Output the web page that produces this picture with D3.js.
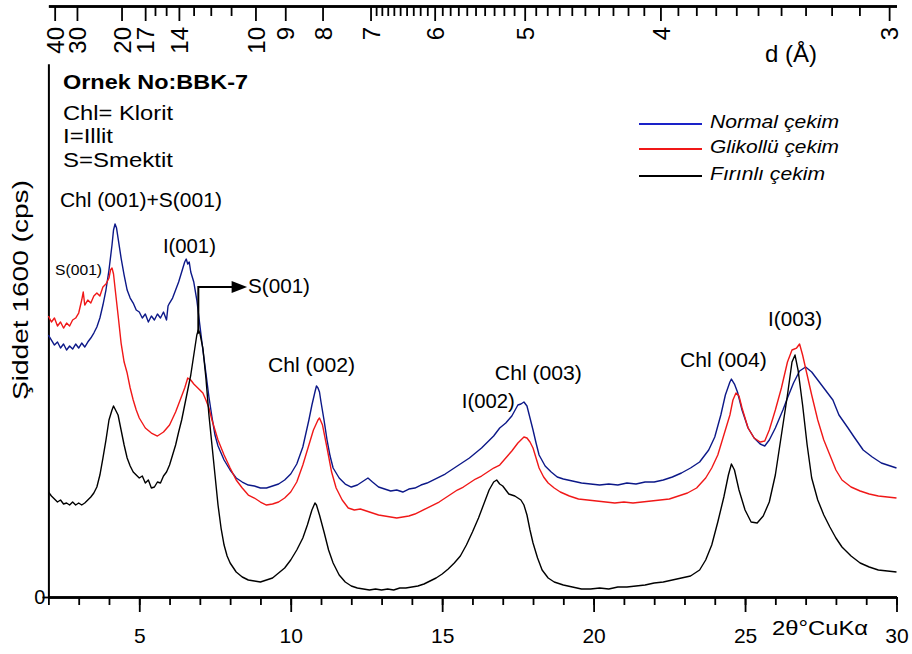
<!DOCTYPE html>
<html>
<head>
  <meta charset="UTF-8">
  <title>BBK-7</title>
  <style>
    body { margin: 0; background: #fff; }
    text { font-family: "Liberation Sans", Arial, sans-serif; fill: #000; }
  </style>
</head>
<body>
<script src="https://cdn.jsdelivr.net/npm/d3@7"></script>
<script>
// [2theta, cps]
var normalCekim = [
  [2.0,786],[2.1,771],[2.2,756],[2.3,765],[2.4,747],[2.5,759],[2.6,741],[2.7,753],[2.8,744],[2.9,759],
  [3.0,747],[3.1,762],[3.2,750],[3.3,765],[3.4,777],[3.5,792],[3.6,810],[3.7,837],[3.8,876],[3.9,921],
  [4.0,981],[4.1,1056],[4.15,1101],[4.2,1119],[4.25,1107],[4.3,1077],[4.4,1017],[4.5,966],[4.6,921],[4.7,897],
  [4.8,882],[4.9,861],[5.0,855],[5.1,837],[5.2,849],[5.3,825],[5.4,843],[5.5,831],[5.6,849],[5.7,837],
  [5.8,855],[5.9,831],[5.95,873],[6.0,882],[6.1,897],[6.2,921],[6.3,945],[6.4,975],[6.5,1005],[6.55,1014],
  [6.6,999],[6.65,1005],[6.7,975],[6.8,945],[6.9,891],[7.0,816],[7.1,741],[7.2,672],[7.3,600],[7.4,540],
  [7.5,486],[7.6,453],[7.8,411],[8.0,381],[8.2,357],[8.4,345],[8.6,336],[8.8,333],[9.0,327],[9.2,327],
  [9.4,333],[9.6,339],[9.8,351],[10.0,369],[10.2,399],[10.4,450],[10.6,531],[10.7,576],[10.8,615],[10.85,633],
  [10.9,627],[10.95,615],[11.0,585],[11.1,531],[11.2,471],[11.3,423],[11.4,387],[11.6,357],[11.8,339],[12.0,330],
  [12.2,336],[12.4,348],[12.55,357],[12.7,345],[12.9,330],[13.1,324],[13.3,318],[13.5,321],[13.7,315],[13.9,324],
  [14.1,327],[14.3,336],[14.5,342],[14.7,351],[14.9,360],[15.1,369],[15.3,381],[15.5,393],[15.7,405],[15.9,417],
  [16.1,432],[16.3,447],[16.5,465],[16.7,483],[16.9,507],[17.1,522],[17.3,543],[17.5,576],[17.6,579],[17.7,585],
  [17.8,573],[17.9,537],[18.0,501],[18.1,462],[18.2,426],[18.4,393],[18.6,375],[18.8,360],[19.0,354],[19.3,348],
  [19.6,342],[19.9,339],[20.2,336],[20.5,339],[20.8,336],[21.1,342],[21.4,339],[21.7,345],[22.0,345],[22.3,351],
  [22.6,360],[22.9,372],[23.2,387],[23.5,405],[23.8,441],[24.0,480],[24.2,546],[24.35,606],[24.5,645],[24.55,654],
  [24.65,639],[24.75,615],[24.9,561],[25.1,507],[25.3,477],[25.5,459],[25.65,453],[25.8,471],[26.0,507],[26.25,561],
  [26.4,597],[26.6,642],[26.8,678],[27.0,690],[27.2,675],[27.4,651],[27.6,627],[27.9,591],[28.1,546],[28.4,507],
  [28.6,480],[28.9,441],[29.2,420],[29.5,402],[29.8,393],[30.0,387]
];

var glikolluCekim = [
  [2.0,843],[2.1,825],[2.2,837],[2.3,813],[2.4,825],[2.5,807],[2.6,822],[2.7,813],[2.8,831],[2.9,837],
  [3.0,852],[3.1,891],[3.15,915],[3.2,876],[3.3,891],[3.4,882],[3.5,903],[3.6,912],[3.7,903],[3.8,930],
  [3.9,939],[4.0,957],[4.05,981],[4.1,987],[4.15,969],[4.2,927],[4.3,846],[4.4,762],[4.5,705],[4.6,672],
  [4.7,627],[4.8,591],[4.9,561],[5.0,537],[5.2,507],[5.4,492],[5.6,483],[5.8,495],[6.0,516],[6.2,555],
  [6.4,603],[6.5,627],[6.6,657],[6.7,651],[6.8,639],[6.9,630],[7.0,621],[7.1,612],[7.2,591],[7.3,567],
  [7.4,531],[7.6,471],[7.8,426],[8.0,387],[8.2,351],[8.4,327],[8.6,306],[8.8,297],[9.0,285],[9.2,276],
  [9.4,279],[9.6,285],[9.8,297],[10.0,315],[10.2,345],[10.4,396],[10.6,456],[10.75,501],[10.9,531],[10.95,537],
  [11.05,516],[11.2,447],[11.35,375],[11.5,327],[11.7,291],[11.9,267],[12.1,261],[12.3,264],[12.5,258],[12.7,252],
  [12.9,246],[13.1,243],[13.3,240],[13.5,237],[13.7,240],[13.9,243],[14.1,249],[14.3,258],[14.5,267],[14.7,276],
  [14.9,285],[15.1,297],[15.3,309],[15.5,321],[15.7,330],[15.9,342],[16.1,354],[16.3,363],[16.5,375],[16.7,387],
  [16.9,396],[17.1,417],[17.3,438],[17.5,462],[17.7,480],[17.8,477],[17.9,465],[18.0,447],[18.1,417],[18.2,387],
  [18.35,360],[18.5,342],[18.7,327],[18.9,315],[19.2,303],[19.5,294],[19.8,291],[20.1,288],[20.4,285],[20.7,282],
  [21.0,285],[21.3,282],[21.6,285],[21.9,288],[22.2,291],[22.5,294],[22.8,303],[23.1,312],[23.4,327],[23.7,357],
  [23.9,387],[24.1,426],[24.3,486],[24.5,546],[24.6,591],[24.7,612],[24.8,603],[24.9,567],[25.1,507],[25.3,477],
  [25.5,465],[25.65,468],[25.8,501],[26.0,561],[26.2,627],[26.4,705],[26.55,741],[26.7,747],[26.8,759],[26.9,726],
  [27.05,666],[27.2,606],[27.4,531],[27.6,471],[27.8,426],[28.0,381],[28.2,351],[28.5,330],[28.8,318],[29.1,309],
  [29.4,303],[29.7,300],[30.0,297]
];

var firinliCekim = [
  [2.0,315],[2.1,303],[2.2,294],[2.3,285],[2.4,291],[2.5,279],[2.6,282],[2.7,276],[2.8,285],[2.9,276],
  [3.0,282],[3.1,276],[3.2,282],[3.3,291],[3.4,300],[3.5,312],[3.6,330],[3.7,366],[3.8,417],[3.9,471],
  [4.0,531],[4.1,561],[4.15,573],[4.2,564],[4.3,546],[4.4,501],[4.5,456],[4.6,417],[4.7,393],[4.8,375],
  [4.9,366],[5.0,357],[5.1,363],[5.2,342],[5.3,351],[5.4,327],[5.5,330],[5.6,345],[5.7,342],[5.8,363],
  [5.9,375],[6.0,396],[6.1,426],[6.2,456],[6.3,495],[6.4,531],[6.5,576],[6.6,621],[6.7,666],[6.8,726],
  [6.9,786],[6.95,801],[7.0,792],[7.1,747],[7.2,657],[7.3,546],[7.4,456],[7.5,366],[7.6,276],[7.7,207],
  [7.8,156],[7.9,123],[8.0,102],[8.2,75],[8.4,60],[8.6,51],[8.8,48],[9.0,45],[9.2,51],[9.4,57],
  [9.6,72],[9.8,87],[10.0,111],[10.2,141],[10.4,177],[10.55,216],[10.7,261],[10.8,282],[10.85,276],[10.95,246],
  [11.1,195],[11.25,141],[11.4,102],[11.6,66],[11.8,45],[12.0,33],[12.2,27],[12.4,24],[12.6,21],[12.8,24],
  [13.0,21],[13.2,24],[13.4,21],[13.6,27],[13.8,27],[14.0,30],[14.2,33],[14.4,39],[14.6,48],[14.8,57],
  [15.0,69],[15.2,84],[15.4,102],[15.6,123],[15.8,156],[16.0,195],[16.2,237],[16.4,285],[16.55,321],[16.7,345],
  [16.8,351],[16.9,339],[17.0,333],[17.2,309],[17.4,303],[17.6,291],[17.7,276],[17.8,246],[17.9,201],[18.0,162],
  [18.15,117],[18.3,81],[18.5,57],[18.7,45],[19.0,36],[19.3,30],[19.6,24],[19.9,24],[20.2,27],[20.5,24],
  [20.8,30],[21.1,30],[21.4,33],[21.7,36],[22.0,42],[22.3,45],[22.6,51],[22.9,57],[23.2,63],[23.5,81],
  [23.7,111],[23.9,156],[24.1,225],[24.3,300],[24.45,366],[24.55,399],[24.65,381],[24.8,321],[25.0,261],[25.2,225],
  [25.4,222],[25.6,243],[25.8,285],[26.0,366],[26.2,486],[26.4,606],[26.55,705],[26.65,726],[26.75,681],[26.9,576],
  [27.05,456],[27.2,357],[27.4,291],[27.6,246],[27.8,210],[28.0,177],[28.2,150],[28.5,123],[28.8,102],[29.1,90],
  [29.4,81],[29.7,78],[30.0,75]
];

var seriesNames = ["Normal çekim", "Glikollü çekim", "Fırınlı çekim"];
var xTickValues = [5, 10, 15, 20, 25, 30];
var dTickLabels = [40, 30, 20, 17, 14, 10, 9, 8, 7, 6, 5, 4, 3];
var dMinorTicks = [16, 15, 13, 12, 11,
  6.9, 6.8, 6.7, 6.6, 6.5, 6.4, 6.3, 6.2, 6.1,
  5.9, 5.8, 5.7, 5.6, 5.5, 5.4, 5.3, 5.2, 5.1,
  4.9, 4.8, 4.7, 4.6, 4.5, 4.4, 4.3, 4.2, 4.1,
  3.9, 3.8, 3.7, 3.6, 3.5, 3.4, 3.3, 3.2, 3.1];

// layout
var width = 912, height = 654;
var lambda = 1.5406; // CuKa
function braggAngle(d) { return 2 * Math.asin(lambda / (2 * d)) * 180 / Math.PI; }
function dSpacing(t) { return lambda / (2 * Math.sin(t / 2 * Math.PI / 180)); }

var svg = d3.select("body").append("svg")
  .attr("width", width)
  .attr("height", height);

var x = d3.scaleLinear().domain([2, 30]).range([48.4, 896.5]);
var y = d3.scaleLinear().domain([0, 1600]).range([597, 63.7]);

function styleAxis(g, domainW) {
  g.selectAll(".domain").attr("stroke", "#000").attr("stroke-width", domainW);
  g.selectAll(".tick line").attr("stroke", "#000").attr("stroke-width", 1.8);
}

// top d axis
var topMinor = svg.append("g").attr("transform", "translate(0,6)")
  .call(d3.axisBottom(x).tickValues(dMinorTicks.map(braggAngle)).tickSize(10).tickSizeOuter(0).tickFormat(""));
styleAxis(topMinor, 2.5);
var topMajor = svg.append("g").attr("transform", "translate(0,6)")
  .call(d3.axisBottom(x).tickValues(dTickLabels.map(braggAngle)).tickSize(15).tickSizeOuter(0)
    .tickFormat(function (t) { return Math.round(dSpacing(t)); }));
styleAxis(topMajor, 2.5);
topMajor.selectAll(".tick text")
  .attr("transform", "rotate(-90)")
  .attr("text-anchor", "end")
  .attr("x", -21).attr("y", 0).attr("dy", "0.36em")
  .attr("font-size", 24).attr("fill", "#000");

svg.append("text").attr("x", 765).attr("y", 62)
  .attr("font-size", 24).attr("textLength", 52).attr("lengthAdjust", "spacingAndGlyphs")
  .text("d (Å)");

// bottom axis
var botMinor = svg.append("g").attr("transform", "translate(0,597)")
  .call(d3.axisBottom(x).tickValues(d3.range(2, 31)).tickSize(8).tickSizeOuter(0).tickFormat(""));
styleAxis(botMinor, 2.5);
var botMajor = svg.append("g").attr("transform", "translate(0,597)")
  .call(d3.axisBottom(x).tickValues(xTickValues).tickSize(15).tickSizeOuter(0));
styleAxis(botMajor, 2.5);
botMajor.selectAll(".tick text")
  .attr("y", 46).attr("dy", 0)
  .attr("font-size", 21).attr("fill", "#000");

svg.append("text").attr("x", 772).attr("y", 635)
  .attr("font-size", 20).attr("textLength", 96).attr("lengthAdjust", "spacingAndGlyphs")
  .text("2θ°CuKα");

// left axis
var left = svg.append("g").attr("transform", "translate(48.4,0)")
  .call(d3.axisLeft(y).tickValues([0]).tickSize(6).tickSizeOuter(0));
styleAxis(left, 2);
left.selectAll(".tick text").attr("x", -3).attr("font-size", 20).attr("fill", "#000");

svg.append("text")
  .attr("transform", "translate(28,290) rotate(-90)")
  .attr("text-anchor", "middle")
  .attr("font-size", 22).attr("textLength", 220).attr("lengthAdjust", "spacingAndGlyphs")
  .text("Şiddet 1600 (cps)");

// curves
var colors = ["#0c1888", "#f01818", "#000"];
var line = d3.line()
  .x(function (d) { return x(d[0]); })
  .y(function (d) { return y(d[1]); });

[normalCekim, glikolluCekim, firinliCekim].forEach(function (s, i) {
  svg.append("path").datum(s)
    .attr("fill", "none")
    .attr("stroke", colors[i])
    .attr("stroke-width", 1.4)
    .attr("stroke-linejoin", "round")
    .attr("d", line);
});

// legend
var legendColors = ["#1a22c8", "#f01818", "#000"];
var legendRows = [124, 149, 176];
var legendW = [129, 129, 115];
seriesNames.forEach(function (n, i) {
  svg.append("line")
    .attr("x1", 639).attr("x2", 702)
    .attr("y1", legendRows[i]).attr("y2", legendRows[i])
    .attr("stroke", legendColors[i]).attr("stroke-width", 2);
  svg.append("text")
    .attr("x", 710).attr("y", legendRows[i] + 4)
    .attr("font-size", 19).attr("font-style", "italic")
    .attr("textLength", legendW[i]).attr("lengthAdjust", "spacingAndGlyphs")
    .text(n);
});

// sample notes
var notes = [
  ["Ornek No:BBK-7", 63, 89, 21, 185, "bold"],
  ["Chl= Klorit", 63, 120, 20, 110],
  ["I=Illit", 63, 143, 20, 50],
  ["S=Smektit", 63, 167, 20, 110]
];
notes.forEach(function (n) {
  svg.append("text").attr("x", n[1]).attr("y", n[2])
    .attr("font-size", n[3]).attr("font-weight", n[5] || "normal")
    .attr("textLength", n[4]).attr("lengthAdjust", "spacingAndGlyphs")
    .text(n[0]);
});

// peak labels, placed in 2theta / cps
var peaks = [
  ["Chl (001)+S(001)", 2.38, 1170, 20, 162],
  ["S(001)", 2.22, 966, 15, 47],
  ["I(001)", 5.78, 1032, 20, 53],
  ["S(001)", 8.59, 912, 20, 62],
  ["Chl (002)", 9.25, 675, 20, 87],
  ["I(002)", 15.65, 567, 20, 53],
  ["Chl (003)", 16.74, 651, 20, 87],
  ["Chl (004)", 22.85, 690, 20, 87],
  ["I(003)", 25.76, 813, 20, 54]
];
peaks.forEach(function (p) {
  svg.append("text").attr("x", x(p[1])).attr("y", y(p[2]))
    .attr("font-size", p[3])
    .attr("fill", p[3] < 18 ? "#333" : "#000")
    .attr("textLength", p[4]).attr("lengthAdjust", "spacingAndGlyphs")
    .text(p[0]);
});

// S(001) arrow
svg.append("path")
  .attr("fill", "none").attr("stroke", "#000").attr("stroke-width", 2)
  .attr("d", "M" + x(6.95) + "," + y(790) + "V" + y(930) + "H" + x(8.1));
svg.append("path")
  .attr("fill", "#000")
  .attr("d", "M" + x(8.05) + "," + (y(930) - 6) + "L" + x(8.56) + "," + y(930) + "L" + x(8.05) + "," + (y(930) + 6) + "Z");
</script>
</body>
</html>
